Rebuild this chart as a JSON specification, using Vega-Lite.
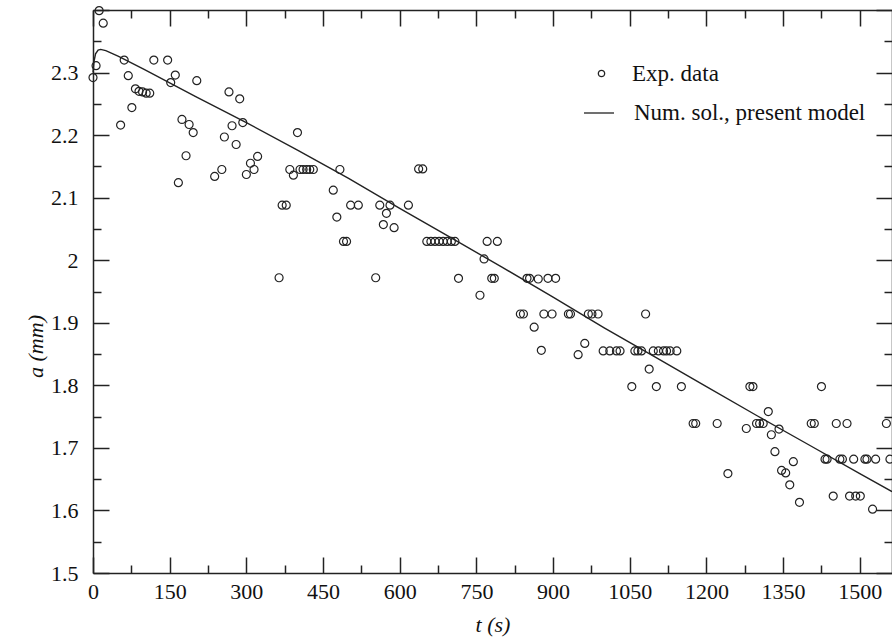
{
  "$schema": "https://vega.github.io/schema/vega-lite/v6.json",
  "width": 799,
  "height": 563,
  "autosize": {"type": "none"},
  "padding": {"left": 93, "top": 10, "right": 0, "bottom": 66},
  "background": "white",
  "config": {
    "view": {"stroke": null},
    "font": "Liberation Serif",
    "axis": {
      "grid": false,
      "domainColor": "#222",
      "domainWidth": 1.5,
      "tickColor": "#222",
      "tickWidth": 1.5,
      "labelColor": "#111",
      "labelFont": "Liberation Serif",
      "labelFontSize": 22,
      "labelFlush": false,
      "labelOverlap": false,
      "titleFont": "Liberation Serif",
      "titleFontSize": 22,
      "titleFontStyle": "italic",
      "titleFontWeight": "normal",
      "titleColor": "#111"
    },
    "legend": {
      "labelFont": "Liberation Serif",
      "labelFontSize": 23,
      "labelColor": "#111",
      "labelLimit": 400,
      "padding": 0,
      "title": null
    }
  },
  "datasets": {
    "exp": [
      {"t": 0, "a": 2.292, "series": "Exp. data"},
      {"t": 6, "a": 2.311, "series": "Exp. data"},
      {"t": 12, "a": 2.399, "series": "Exp. data"},
      {"t": 20, "a": 2.379, "series": "Exp. data"},
      {"t": 54, "a": 2.216, "series": "Exp. data"},
      {"t": 61, "a": 2.32, "series": "Exp. data"},
      {"t": 69, "a": 2.295, "series": "Exp. data"},
      {"t": 76, "a": 2.244, "series": "Exp. data"},
      {"t": 83, "a": 2.274, "series": "Exp. data"},
      {"t": 90, "a": 2.27, "series": "Exp. data"},
      {"t": 97, "a": 2.269, "series": "Exp. data"},
      {"t": 104, "a": 2.267, "series": "Exp. data"},
      {"t": 111, "a": 2.267, "series": "Exp. data"},
      {"t": 119, "a": 2.32, "series": "Exp. data"},
      {"t": 146, "a": 2.32, "series": "Exp. data"},
      {"t": 152, "a": 2.284, "series": "Exp. data"},
      {"t": 161, "a": 2.296, "series": "Exp. data"},
      {"t": 167, "a": 2.124, "series": "Exp. data"},
      {"t": 174, "a": 2.225, "series": "Exp. data"},
      {"t": 182, "a": 2.167, "series": "Exp. data"},
      {"t": 188, "a": 2.217, "series": "Exp. data"},
      {"t": 196, "a": 2.204, "series": "Exp. data"},
      {"t": 203, "a": 2.287, "series": "Exp. data"},
      {"t": 238, "a": 2.134, "series": "Exp. data"},
      {"t": 252, "a": 2.145, "series": "Exp. data"},
      {"t": 257, "a": 2.197, "series": "Exp. data"},
      {"t": 266, "a": 2.269, "series": "Exp. data"},
      {"t": 272, "a": 2.215, "series": "Exp. data"},
      {"t": 280, "a": 2.185, "series": "Exp. data"},
      {"t": 287, "a": 2.258, "series": "Exp. data"},
      {"t": 293, "a": 2.22, "series": "Exp. data"},
      {"t": 300, "a": 2.137, "series": "Exp. data"},
      {"t": 308, "a": 2.155, "series": "Exp. data"},
      {"t": 315, "a": 2.145, "series": "Exp. data"},
      {"t": 322, "a": 2.166, "series": "Exp. data"},
      {"t": 364, "a": 1.972, "series": "Exp. data"},
      {"t": 370, "a": 2.088, "series": "Exp. data"},
      {"t": 378, "a": 2.088, "series": "Exp. data"},
      {"t": 385, "a": 2.145, "series": "Exp. data"},
      {"t": 392, "a": 2.136, "series": "Exp. data"},
      {"t": 400, "a": 2.204, "series": "Exp. data"},
      {"t": 405, "a": 2.145, "series": "Exp. data"},
      {"t": 411, "a": 2.145, "series": "Exp. data"},
      {"t": 418, "a": 2.145, "series": "Exp. data"},
      {"t": 424, "a": 2.145, "series": "Exp. data"},
      {"t": 431, "a": 2.145, "series": "Exp. data"},
      {"t": 470, "a": 2.112, "series": "Exp. data"},
      {"t": 477, "a": 2.069, "series": "Exp. data"},
      {"t": 483, "a": 2.145, "series": "Exp. data"},
      {"t": 490, "a": 2.03, "series": "Exp. data"},
      {"t": 496, "a": 2.03, "series": "Exp. data"},
      {"t": 504, "a": 2.088, "series": "Exp. data"},
      {"t": 519, "a": 2.088, "series": "Exp. data"},
      {"t": 553, "a": 1.972, "series": "Exp. data"},
      {"t": 561, "a": 2.088, "series": "Exp. data"},
      {"t": 568, "a": 2.057, "series": "Exp. data"},
      {"t": 574, "a": 2.075, "series": "Exp. data"},
      {"t": 581, "a": 2.088, "series": "Exp. data"},
      {"t": 589, "a": 2.052, "series": "Exp. data"},
      {"t": 617, "a": 2.088, "series": "Exp. data"},
      {"t": 637, "a": 2.146, "series": "Exp. data"},
      {"t": 645, "a": 2.146, "series": "Exp. data"},
      {"t": 653, "a": 2.03, "series": "Exp. data"},
      {"t": 661, "a": 2.03, "series": "Exp. data"},
      {"t": 669, "a": 2.03, "series": "Exp. data"},
      {"t": 677, "a": 2.03, "series": "Exp. data"},
      {"t": 685, "a": 2.03, "series": "Exp. data"},
      {"t": 693, "a": 2.03, "series": "Exp. data"},
      {"t": 701, "a": 2.03, "series": "Exp. data"},
      {"t": 708, "a": 2.03, "series": "Exp. data"},
      {"t": 715, "a": 1.971, "series": "Exp. data"},
      {"t": 757, "a": 1.944, "series": "Exp. data"},
      {"t": 765, "a": 2.002, "series": "Exp. data"},
      {"t": 771, "a": 2.03, "series": "Exp. data"},
      {"t": 780, "a": 1.971, "series": "Exp. data"},
      {"t": 785, "a": 1.971, "series": "Exp. data"},
      {"t": 791, "a": 2.03, "series": "Exp. data"},
      {"t": 836, "a": 1.914, "series": "Exp. data"},
      {"t": 842, "a": 1.914, "series": "Exp. data"},
      {"t": 849, "a": 1.971, "series": "Exp. data"},
      {"t": 854, "a": 1.971, "series": "Exp. data"},
      {"t": 863, "a": 1.893, "series": "Exp. data"},
      {"t": 871, "a": 1.97, "series": "Exp. data"},
      {"t": 877, "a": 1.856, "series": "Exp. data"},
      {"t": 882, "a": 1.914, "series": "Exp. data"},
      {"t": 890, "a": 1.971, "series": "Exp. data"},
      {"t": 898, "a": 1.914, "series": "Exp. data"},
      {"t": 905, "a": 1.971, "series": "Exp. data"},
      {"t": 930, "a": 1.914, "series": "Exp. data"},
      {"t": 934, "a": 1.914, "series": "Exp. data"},
      {"t": 949, "a": 1.849, "series": "Exp. data"},
      {"t": 962, "a": 1.867, "series": "Exp. data"},
      {"t": 969, "a": 1.914, "series": "Exp. data"},
      {"t": 976, "a": 1.914, "series": "Exp. data"},
      {"t": 988, "a": 1.914, "series": "Exp. data"},
      {"t": 998, "a": 1.855, "series": "Exp. data"},
      {"t": 1011, "a": 1.855, "series": "Exp. data"},
      {"t": 1024, "a": 1.855, "series": "Exp. data"},
      {"t": 1031, "a": 1.855, "series": "Exp. data"},
      {"t": 1054, "a": 1.798, "series": "Exp. data"},
      {"t": 1060, "a": 1.855, "series": "Exp. data"},
      {"t": 1066, "a": 1.855, "series": "Exp. data"},
      {"t": 1073, "a": 1.855, "series": "Exp. data"},
      {"t": 1081, "a": 1.914, "series": "Exp. data"},
      {"t": 1088, "a": 1.826, "series": "Exp. data"},
      {"t": 1096, "a": 1.855, "series": "Exp. data"},
      {"t": 1102, "a": 1.798, "series": "Exp. data"},
      {"t": 1106, "a": 1.855, "series": "Exp. data"},
      {"t": 1116, "a": 1.855, "series": "Exp. data"},
      {"t": 1122, "a": 1.855, "series": "Exp. data"},
      {"t": 1129, "a": 1.855, "series": "Exp. data"},
      {"t": 1142, "a": 1.855, "series": "Exp. data"},
      {"t": 1151, "a": 1.798, "series": "Exp. data"},
      {"t": 1174, "a": 1.739, "series": "Exp. data"},
      {"t": 1179, "a": 1.739, "series": "Exp. data"},
      {"t": 1221, "a": 1.739, "series": "Exp. data"},
      {"t": 1242, "a": 1.659, "series": "Exp. data"},
      {"t": 1278, "a": 1.731, "series": "Exp. data"},
      {"t": 1285, "a": 1.798, "series": "Exp. data"},
      {"t": 1291, "a": 1.798, "series": "Exp. data"},
      {"t": 1298, "a": 1.739, "series": "Exp. data"},
      {"t": 1304, "a": 1.739, "series": "Exp. data"},
      {"t": 1311, "a": 1.739, "series": "Exp. data"},
      {"t": 1321, "a": 1.758, "series": "Exp. data"},
      {"t": 1327, "a": 1.721, "series": "Exp. data"},
      {"t": 1334, "a": 1.694, "series": "Exp. data"},
      {"t": 1342, "a": 1.73, "series": "Exp. data"},
      {"t": 1347, "a": 1.664, "series": "Exp. data"},
      {"t": 1355, "a": 1.66, "series": "Exp. data"},
      {"t": 1363, "a": 1.641, "series": "Exp. data"},
      {"t": 1370, "a": 1.678, "series": "Exp. data"},
      {"t": 1382, "a": 1.613, "series": "Exp. data"},
      {"t": 1405, "a": 1.739, "series": "Exp. data"},
      {"t": 1411, "a": 1.739, "series": "Exp. data"},
      {"t": 1425, "a": 1.798, "series": "Exp. data"},
      {"t": 1432, "a": 1.682, "series": "Exp. data"},
      {"t": 1436, "a": 1.682, "series": "Exp. data"},
      {"t": 1448, "a": 1.623, "series": "Exp. data"},
      {"t": 1454, "a": 1.739, "series": "Exp. data"},
      {"t": 1461, "a": 1.682, "series": "Exp. data"},
      {"t": 1466, "a": 1.682, "series": "Exp. data"},
      {"t": 1475, "a": 1.739, "series": "Exp. data"},
      {"t": 1480, "a": 1.623, "series": "Exp. data"},
      {"t": 1488, "a": 1.682, "series": "Exp. data"},
      {"t": 1492, "a": 1.623, "series": "Exp. data"},
      {"t": 1501, "a": 1.623, "series": "Exp. data"},
      {"t": 1510, "a": 1.682, "series": "Exp. data"},
      {"t": 1514, "a": 1.682, "series": "Exp. data"},
      {"t": 1525, "a": 1.602, "series": "Exp. data"},
      {"t": 1531, "a": 1.682, "series": "Exp. data"},
      {"t": 1552, "a": 1.739, "series": "Exp. data"},
      {"t": 1559, "a": 1.682, "series": "Exp. data"}
    ],
    "model": [
      {"t": 0, "a": 2.3, "series": "Num. sol., present model"},
      {"t": 2, "a": 2.318, "series": "Num. sol., present model"},
      {"t": 5, "a": 2.33, "series": "Num. sol., present model"},
      {"t": 10, "a": 2.336, "series": "Num. sol., present model"},
      {"t": 15, "a": 2.337, "series": "Num. sol., present model"},
      {"t": 25, "a": 2.335, "series": "Num. sol., present model"},
      {"t": 50, "a": 2.326, "series": "Num. sol., present model"},
      {"t": 100, "a": 2.305, "series": "Num. sol., present model"},
      {"t": 200, "a": 2.262, "series": "Num. sol., present model"},
      {"t": 300, "a": 2.22, "series": "Num. sol., present model"},
      {"t": 400, "a": 2.176, "series": "Num. sol., present model"},
      {"t": 500, "a": 2.131, "series": "Num. sol., present model"},
      {"t": 600, "a": 2.083, "series": "Num. sol., present model"},
      {"t": 700, "a": 2.036, "series": "Num. sol., present model"},
      {"t": 800, "a": 1.989, "series": "Num. sol., present model"},
      {"t": 900, "a": 1.941, "series": "Num. sol., present model"},
      {"t": 1000, "a": 1.892, "series": "Num. sol., present model"},
      {"t": 1100, "a": 1.845, "series": "Num. sol., present model"},
      {"t": 1200, "a": 1.798, "series": "Num. sol., present model"},
      {"t": 1300, "a": 1.751, "series": "Num. sol., present model"},
      {"t": 1400, "a": 1.705, "series": "Num. sol., present model"},
      {"t": 1500, "a": 1.659, "series": "Num. sol., present model"},
      {"t": 1563, "a": 1.63, "series": "Num. sol., present model"}
    ]
  },
  "layer": [
    {
      "data": {"name": "model"},
      "mark": {"type": "line", "strokeWidth": 1.4},
      "encoding": {
        "x": {
          "field": "t", "type": "quantitative",
          "scale": {"domain": [0, 1563], "nice": false, "zero": false},
          "axis": {
            "orient": "top",
            "values": [0, 75, 150, 225, 300, 375, 450, 525, 600, 675, 750, 825, 900, 975, 1050, 1125, 1200, 1275, 1350, 1425, 1500],
            "labels": false,
            "title": null,
            "tickSize": {"condition": {"test": "datum.value % 150 === 0", "value": -16}, "value": -8}
          }
        },
        "y": {
          "field": "a", "type": "quantitative",
          "scale": {"domain": [1.5, 2.4], "nice": false, "zero": false},
          "axis": {
            "orient": "right",
            "values": [1.5, 1.55, 1.6, 1.65, 1.7, 1.75, 1.8, 1.85, 1.9, 1.95, 2.0, 2.05, 2.1, 2.15, 2.2, 2.25, 2.3, 2.35, 2.4],
            "labels": false,
            "title": null,
            "tickSize": {"condition": {"test": "round(datum.value*100) % 10 === 0", "value": -16}, "value": -8}
          }
        },
        "color": {
          "field": "series", "type": "nominal",
          "scale": {"domain": ["Num. sol., present model"], "range": ["#222"]},
          "legend": {
            "orient": "none",
            "legendX": 490,
            "legendY": 87,
            "symbolType": "stroke",
            "symbolSize": 900,
            "symbolStrokeWidth": 1.3,
            "labelOffset": 19
          }
        }
      }
    },
    {
      "data": {"name": "exp"},
      "mark": {"type": "point", "filled": false, "size": 64, "strokeWidth": 1.2, "color": "#222", "opacity": 1},
      "encoding": {
        "x": {
          "field": "t", "type": "quantitative",
          "axis": {
            "orient": "bottom",
            "values": [0, 75, 150, 225, 300, 375, 450, 525, 600, 675, 750, 825, 900, 975, 1050, 1125, 1200, 1275, 1350, 1425, 1500],
            "labelExpr": "datum.value % 150 === 0 ? toString(datum.value) : ''",
            "labelFont": "Liberation Serif",
            "labelPadding": 24,
            "tickSize": {"condition": {"test": "datum.value % 150 === 0", "value": -16}, "value": -8},
            "title": "t (s)",
            "titleFont": "Liberation Serif",
            "titleFontStyle": "italic",
            "titleY": 51,
            "titleBaseline": "middle",
            "encode": {
              "labels": {"update": {"font": {"value": "Liberation Serif"}}},
              "title": {"update": {"font": {"value": "Liberation Serif"}}}
            }
          }
        },
        "y": {
          "field": "a", "type": "quantitative",
          "axis": {
            "orient": "left",
            "values": [1.5, 1.55, 1.6, 1.65, 1.7, 1.75, 1.8, 1.85, 1.9, 1.95, 2.0, 2.05, 2.1, 2.15, 2.2, 2.25, 2.3, 2.35, 2.4],
            "labelExpr": "(round(datum.value*100) % 10 === 0 && datum.value < 2.35) ? toString(round(datum.value*10)/10) : ''",
            "labelFont": "Liberation Serif",
            "labelPadding": 31,
            "tickSize": {"condition": {"test": "round(datum.value*100) % 10 === 0", "value": -16}, "value": -8},
            "title": "a (mm)",
            "titleFont": "Liberation Serif",
            "titleFontStyle": "italic",
            "titleX": -58,
            "titleY": 336,
            "titleAlign": "center",
            "titleBaseline": "middle",
            "encode": {
              "labels": {"update": {"font": {"value": "Liberation Serif"}}},
              "title": {"update": {"font": {"value": "Liberation Serif"}}}
            }
          }
        },
        "shape": {
          "field": "series", "type": "nominal",
          "scale": {"domain": ["Exp. data"], "range": ["circle"]},
          "legend": {
            "orient": "none",
            "legendX": 497,
            "legendY": 52,
            "symbolSize": 40,
            "symbolStrokeColor": "#222",
            "symbolFillColor": "transparent",
            "symbolStrokeWidth": 1.3,
            "labelOffset": 19
          }
        }
      }
    }
  ],
  "resolve": {"axis": {"x": "independent", "y": "independent"}}
}
